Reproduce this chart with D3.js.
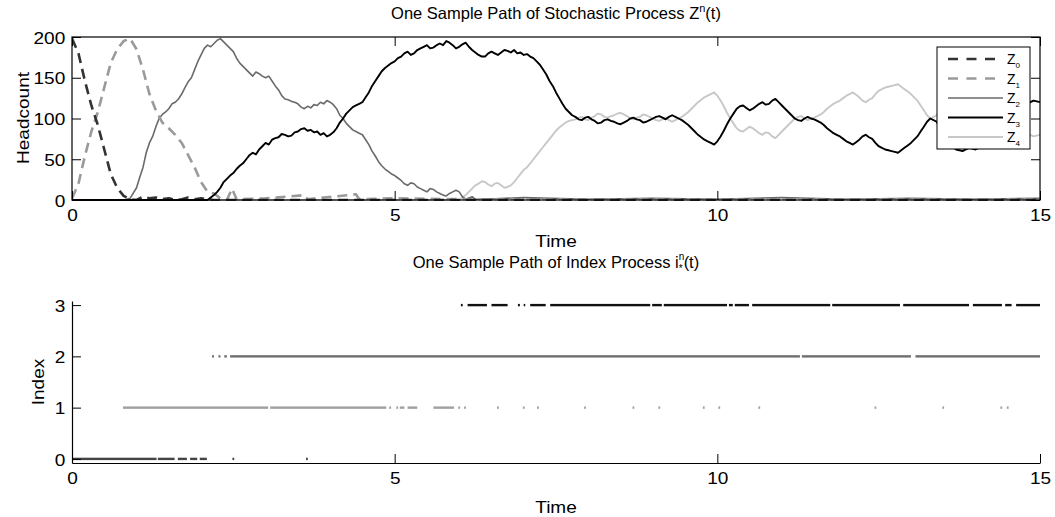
<!DOCTYPE html>
<html><head><meta charset="utf-8">
<script src="https://cdn.jsdelivr.net/npm/d3@7"></script>
<style>
body{margin:0;background:#fff;}
svg text{font-family:"Liberation Sans",Arial,Helvetica,sans-serif;fill:#000;}
</style></head>
<body><svg id="c" width="1055" height="517"></svg>
<script>
// ---------- DATA (time, headcount) ----------
const seriesNames = ["0","1","2","3","4"];
const xTicks = [0,5,10,15];
const yTicksTop = [0,50,100,150,200];
const yTicksBottom = [0,1,2,3];

const z0 = [[0,198],[0.1,180],[0.2,146],[0.3,116],[0.4,92],[0.5,62],[0.6,32],[0.7,15],[0.8,5],[0.9,1],
  [1.0,0],[1.1,4],[1.2,2],[1.3,3],[1.4,1],[1.5,2],[1.6,0],[1.7,1],[1.8,3],[1.9,1],[2.0,2],[2.1,1],[2.2,0],[15,0]];

const z1 = [[0,2],[0.1,20],[0.2,54],[0.3,84],[0.4,108],[0.5,138],[0.6,168],[0.7,185],[0.8,195],[0.9,198],
  [1.0,185],[1.1,160],[1.2,130],[1.3,110],[1.4,95],[1.5,88],[1.6,80],[1.7,70],[1.8,55],[1.9,40],
  [2.0,22],[2.1,10],[2.2,8],[2.3,2],[2.4,0],[2.48,14],[2.55,1],[3.0,2],[3.6,6],[3.65,1],[4.4,7],[4.45,1],[5.0,2],[6.0,1],[15,1]];

const z2 = [[0,0],[0.8,0],[0.9,2],[1.0,15],[1.05,28],[1.1,40],[1.15,58],[1.2,70],[1.25,78],[1.3,90],[1.35,100],[1.4,105],
  [1.45,108],[1.5,112],[1.55,118],[1.6,120],[1.65,124],[1.7,130],[1.75,138],[1.8,145],[1.85,150],[1.9,160],[1.95,170],
  [2.0,178],[2.05,186],[2.1,190],[2.15,188],[2.2,192],[2.25,196],[2.3,198],[2.35,194],[2.4,190],[2.45,186],[2.5,182],
  [2.55,174],[2.6,168],[2.65,164],[2.7,160],[2.75,156],[2.8,152],[2.85,157],[2.9,155],[2.95,152],[3.0,150],[3.05,152],
  [3.1,146],[3.15,140],[3.2,135],[3.25,128],[3.3,124],[3.35,123],[3.4,121],[3.45,120],[3.5,118],[3.55,114],[3.6,112],
  [3.65,115],[3.7,113],[3.75,117],[3.8,116],[3.85,120],[3.9,118],[3.95,122],[4.0,120],[4.05,117],[4.1,112],[4.15,104],
  [4.2,100],[4.25,94],[4.3,90],[4.35,86],[4.4,84],[4.45,82],[4.5,80],[4.55,74],[4.6,68],[4.65,60],[4.7,54],[4.75,47],
  [4.8,42],[4.85,38],[4.9,35],[4.95,32],[5.0,30],[5.05,27],[5.1,24],[5.15,20],[5.2,18],[5.25,21],[5.3,20],[5.35,16],
  [5.4,14],[5.45,12],[5.5,10],[5.55,14],[5.6,13],[5.65,10],[5.7,8],[5.75,6],[5.8,5],[5.85,8],
  [5.9,10],[5.95,12],[6.0,10],[6.05,4],[6.1,1],[6.2,4],[6.25,1],[6.4,1],[7.0,3],[8.0,1],[9.0,2],[10.0,1],[11.0,3],[12.0,1],[13.0,2],[14.0,1],[15,2]];

const z3 = [[0,0],[2.1,0],[2.15,3],[2.2,6],[2.25,10],[2.3,15],[2.35,22],[2.4,26],[2.45,30],[2.5,33],[2.55,38],[2.6,42],
  [2.65,45],[2.7,50],[2.75,55],[2.8,58],[2.85,56],[2.9,62],[2.95,66],[3.0,70],[3.05,68],[3.1,74],[3.15,76],[3.2,77],
  [3.25,81],[3.3,80],[3.35,78],[3.4,79],[3.45,83],[3.5,84],[3.55,87],[3.6,88],[3.65,85],[3.7,86],[3.75,83],[3.8,84],
  [3.85,80],[3.9,82],[3.95,78],[4.0,80],[4.05,83],[4.1,88],[4.15,95],
  [4.2,100],[4.25,106],[4.3,110],[4.35,114],[4.4,116],[4.45,118],[4.5,120],[4.55,126],[4.6,132],[4.65,140],[4.7,146],
  [4.75,152],[4.8,158],[4.85,162],[4.9,165],[4.95,168],[5.0,170],[5.05,174],[5.1,176],
  [5.15,180],[5.2,182],[5.25,178],[5.3,180],[5.35,184],[5.4,186],[5.45,188],[5.5,190],[5.55,186],[5.6,187],[5.65,190],
  [5.7,192],[5.75,190],[5.8,195],[5.85,193],[5.9,190],[5.95,186],[6.0,188],[6.05,191],[6.1,193],
  [6.15,188],[6.2,184],[6.25,181],[6.3,178],[6.35,176],[6.4,176],[6.45,180],[6.5,182],[6.55,180],[6.6,178],[6.65,181],
  [6.7,184],[6.75,183],[6.8,181],[6.85,184],[6.9,180],[6.95,181],[7.0,178],[7.05,179],[7.1,176],
  [7.15,174],[7.2,170],[7.25,166],[7.3,160],[7.35,154],[7.4,146],[7.45,140],[7.5,132],[7.55,125],[7.6,118],[7.65,112],
  [7.7,108],[7.75,104],[7.8,102],[7.85,99],[7.9,98],[7.95,101],[8.0,102],[8.05,99],[8.1,97],
  [8.15,94],[8.2,95],[8.25,98],[8.3,99],[8.35,97],[8.4,96],[8.45,94],[8.5,93],[8.55,95],[8.6,97],[8.65,100],[8.7,101],
  [8.75,99],[8.8,98],[8.85,95],[8.9,96],[8.95,98],[9.0,100],[9.05,102],[9.1,103],[9.15,101],[9.2,99],
  [9.25,102],[9.3,104],[9.35,102],[9.4,100],[9.45,98],[9.5,95],[9.55,92],[9.6,88],[9.65,84],[9.7,80],[9.75,77],[9.8,74],
  [9.85,72],[9.9,70],[9.95,68],[10.0,72],[10.05,78],[10.1,85],[10.15,93],[10.2,100],
  [10.25,106],[10.3,112],[10.35,115],[10.4,116],[10.45,113],[10.5,110],[10.55,112],[10.6,115],[10.65,118],[10.7,120],
  [10.75,117],[10.8,118],[10.85,122],[10.9,124],[10.95,120],[11.0,116],[11.05,112],[11.1,108],
  [11.15,104],[11.2,100],[11.25,98],[11.3,97],[11.35,100],[11.4,102],[11.45,100],[11.5,99],[11.55,97],[11.6,95],
  [11.65,92],[11.7,88],[11.75,85],[11.8,82],[11.85,80],[11.9,78],[11.95,75],[12.0,72],[12.05,70],[12.1,68],
  [12.15,71],[12.2,74],[12.25,78],[12.3,80],[12.35,77],[12.4,75],[12.45,70],[12.5,66],[12.55,64],[12.6,62],[12.65,61],
  [12.7,60],[12.75,59],[12.8,58],[12.85,61],[12.9,64],[12.95,67],[13.0,70],[13.05,74],[13.1,78],
  [13.15,84],[13.2,90],[13.25,96],[13.3,100],[13.35,98],[13.4,96],[13.45,88],[13.5,80],[13.55,73],[13.6,68],[13.65,65],
  [13.7,62],[13.75,61],[13.8,60],[13.85,62],[13.9,64],[13.95,63],[14.0,62],[14.05,64],[14.1,66],
  [14.15,68],[14.2,70],[14.25,72],[14.3,74],[14.35,78],[14.4,82],[14.45,86],[14.5,90],[14.55,95],[14.6,100],[14.65,105],
  [14.7,110],[14.75,114],[14.8,118],[14.85,120],[14.9,122],[14.95,121],[15.0,120]];

const z4 = [[0,0],[6.0,0],[6.05,3],[6.1,6],[6.15,10],[6.2,14],[6.25,18],[6.3,20],[6.35,23],[6.4,22],[6.45,19],[6.5,17],
  [6.55,20],[6.6,21],[6.65,18],[6.7,15],[6.75,16],[6.8,18],[6.85,22],[6.9,27],[6.95,32],
  [7.0,37],[7.05,40],[7.1,45],[7.15,50],[7.2,55],[7.25,60],[7.3,65],[7.35,70],[7.4,75],[7.45,80],[7.5,85],[7.55,89],
  [7.6,92],[7.65,95],[7.7,97],[7.75,98],[7.8,99],[7.85,101],[7.9,102],[7.95,99],[8.0,98],[8.05,101],
  [8.1,103],[8.15,106],[8.2,105],[8.25,102],[8.3,101],[8.35,103],[8.4,104],[8.45,106],[8.5,107],[8.55,105],[8.6,103],
  [8.65,100],[8.7,99],[8.75,101],[8.8,102],[8.85,105],[8.9,104],[8.95,102],[9.0,100],[9.05,98],
  [9.1,97],[9.15,99],[9.2,101],[9.25,98],[9.3,96],[9.35,98],[9.4,100],[9.45,102],[9.5,105],[9.55,108],[9.6,112],
  [9.65,116],[9.7,120],[9.75,123],[9.8,126],[9.85,128],[9.9,130],[9.95,132],[10.0,128],[10.05,122],
  [10.1,115],[10.15,107],[10.2,100],[10.25,94],[10.3,88],[10.35,85],[10.4,84],[10.45,87],[10.5,90],[10.55,88],
  [10.6,85],[10.65,82],[10.7,80],[10.75,83],[10.8,82],[10.85,78],[10.9,76],[10.95,80],[11.0,84],[11.05,88],
  [11.1,92],[11.15,96],[11.2,100],[11.25,102],[11.3,103],[11.35,100],[11.4,98],[11.45,100],[11.5,101],[11.55,103],
  [11.6,105],[11.65,108],[11.7,112],[11.75,115],[11.8,118],[11.85,120],[11.9,122],[11.95,125],
  [12.0,128],[12.05,130],[12.1,132],[12.15,129],[12.2,126],[12.25,122],[12.3,120],[12.35,123],[12.4,125],[12.45,130],
  [12.5,134],[12.55,136],[12.6,138],[12.65,139],[12.7,140],[12.75,141],[12.8,142],[12.85,139],[12.9,136],[12.95,133],
  [13.0,130],[13.05,126],[13.1,122],[13.15,116],[13.2,110],[13.25,104],[13.3,100],[13.35,102],[13.4,104],[13.45,112],
  [13.5,120],[13.55,127],[13.6,132],[13.65,135],[13.7,138],[13.75,139],[13.8,140],[13.85,138],[13.9,136],[13.95,137],
  [14.0,138],[14.05,136],[14.1,134],[14.15,132],[14.2,130],[14.25,128],[14.3,126],[14.35,122],[14.4,118],[14.45,114],
  [14.5,110],[14.55,105],[14.6,100],[14.65,95],[14.7,90],[14.75,86],[14.8,82],[14.85,80],[14.9,78],[14.95,79],[15.0,80]];

// Index process: intervals [start,end] where the index sits at a level, plus isolated instants
const idx0Segs = [[0,1.31],[1.33,1.59],[1.64,1.78],[1.83,1.94],[1.98,2.09]];
const idx0Dots = [2.5,3.64];
const idx1Segs = [[0.79,3.04],[3.07,4.87],[5.08,5.15],[5.2,5.35],[5.6,5.92]];
const idx1Dots = [4.93,5.04,6.0,6.09,6.6,7.0,7.22,7.95,8.7,9.1,9.79,10.03,10.65,12.45,13.5,14.4,14.5];
const idx2Segs = [[2.17,2.2],[2.27,2.3],[2.36,2.4],[2.45,11.28],[11.31,13.0],[13.07,15]];
const idx2Dots = [];
const idx3Segs = [[6.13,6.43],[6.5,6.75],[6.91,6.94],[7.0,7.02],[7.1,7.34],[7.41,8.96],[8.99,9.14],[9.17,10.15],
  [10.18,10.24],[10.27,10.49],[10.54,11.75],[11.78,12.83],[12.88,13.9],[13.96,14.41],[14.46,14.56],[14.63,15]];
const idx3Dots = [6.04];

// ---------- DRAWING ----------
const svg = d3.select("#c");
const L = 72, R = 1040;
const T1 = 37, B1 = 200, T2 = 301, B2 = 463;
const SX = 1.12; // horizontal stretch of labels in reference

const x = d3.scaleLinear().domain([0,15]).range([L,R]);
const y1 = d3.scaleLinear().domain([0,200]).range([B1,T1]);
const y2 = d3.scaleLinear().domain([-0.08,3.08]).range([B2,T2]);

const styles = [
  {color:"#333", w:2.6, dash:"10,6"},
  {color:"#9a9a9a", w:2.6, dash:"10,6"},
  {color:"#6a6a6a", w:1.6, dash:null},
  {color:"#000", w:1.9, dash:null},
  {color:"#c8c8c8", w:1.9, dash:null}
];
const series = [z0,z1,z2,z3,z4];

svg.append("clipPath").attr("id","clip1").append("rect")
  .attr("x",L).attr("y",T1-2).attr("width",R-L).attr("height",B1-T1+3);

const line = d3.line().x(d=>x(d[0])).y(d=>y1(d[1]));
const gLines = svg.append("g").attr("clip-path","url(#clip1)");
[4,2,1,0,3].forEach(i=>{
  gLines.append("path").datum(series[i]).attr("d",line)
    .attr("fill","none").attr("stroke",styles[i].color).attr("stroke-width",styles[i].w)
    .attr("stroke-linejoin","round")
    .attr("stroke-dasharray",styles[i].dash);
});

function styleAxis(g){
  g.select(".domain").remove();
  g.selectAll(".tick line").attr("stroke","#000").attr("stroke-width",1);
  g.selectAll(".tick text").style("font-size","17px").attr("fill","#000").attr("transform",`scale(${SX},1)`);
}

// Top plot axes (box with inward ticks)
svg.append("g").attr("transform",`translate(${L},0)`)
  .call(d3.axisLeft(y1).tickValues(yTicksTop).tickSizeInner(-9).tickSizeOuter(0).tickPadding(6))
  .call(styleAxis).selectAll(".tick text").attr("dy","0.36em");
svg.append("g").attr("transform",`translate(${R},0)`)
  .call(d3.axisRight(y1).tickValues(yTicksTop).tickSizeInner(-9).tickSizeOuter(0).tickFormat(""))
  .call(styleAxis);
svg.append("g").attr("transform",`translate(0,${B1})`)
  .call(d3.axisBottom(x).tickValues(xTicks).tickSizeInner(-9).tickSizeOuter(0).tickPadding(9))
  .call(styleAxis);
svg.append("g").attr("transform",`translate(0,${T1})`)
  .call(d3.axisTop(x).tickValues(xTicks).tickSizeInner(-9).tickSizeOuter(0).tickFormat(""))
  .call(styleAxis);
svg.append("rect").attr("x",L).attr("y",T1).attr("width",R-L).attr("height",B1-T1)
  .attr("fill","none").attr("stroke","#000").attr("stroke-width",1.2);

// Legend
const lg = svg.append("g");
lg.append("rect").attr("x",937).attr("y",47).attr("width",93).attr("height",102)
  .attr("fill","#fff").attr("stroke","#000").attr("stroke-width",1);
seriesNames.forEach((n,i)=>{
  const yy = 59 + i*19.5;
  lg.append("line").attr("x1",948).attr("x2",1003).attr("y1",yy).attr("y2",yy)
    .attr("stroke",styles[i].color).attr("stroke-width",styles[i].w)
    .attr("stroke-dasharray",styles[i].dash ? "10,8.5" : null);
  const t = lg.append("text").attr("x",1007).attr("y",yy+5).style("font-size","14px").text("Z");
  t.append("tspan").attr("dy",4).style("font-size","8px").text(n);
});

// Titles and labels
const t1 = svg.append("text").attr("x",556).attr("y",19).attr("text-anchor","middle").style("font-size","16.5px")
  .text("One Sample Path of Stochastic Process Z");
t1.append("tspan").attr("dy",-7).style("font-size","11px").text("n");
t1.append("tspan").attr("dy",7).text("(t)");

svg.append("text").attr("transform",`translate(556,247) scale(${SX},1)`).attr("text-anchor","middle").style("font-size","17px").text("Time");
svg.append("text").attr("transform",`translate(29,118) rotate(-90) scale(${SX},1)`).attr("text-anchor","middle")
  .style("font-size","17px").text("Headcount");

// Bottom plot title: i with superscript n and subscript *
const t2 = svg.append("text").attr("x",556).attr("y",268).attr("text-anchor","middle").style("font-size","16.5px")
  .text("One Sample Path of Index Process i");
t2.append("tspan").attr("dy",-8).style("font-size","10px").text("n");
t2.append("tspan").attr("dx",-5.6).attr("dy",12).style("font-size","10px").text("*");
t2.append("tspan").attr("dx",1).attr("dy",-4).text("(t)");

const levelData = [
  {lvl:0, segs:idx0Segs, dots:idx0Dots, color:"#444"},
  {lvl:1, segs:idx1Segs, dots:idx1Dots, color:"#a0a0a0"},
  {lvl:2, segs:idx2Segs, dots:idx2Dots, color:"#707070"},
  {lvl:3, segs:idx3Segs, dots:idx3Dots, color:"#111"}
];
const gIdx = svg.append("g");
levelData.forEach(ld=>{
  gIdx.selectAll(null).data(ld.segs).enter().append("rect")
    .attr("x",d=>x(d[0])).attr("width",d=>Math.max(1.5,x(d[1])-x(d[0])))
    .attr("y",y2(ld.lvl)-1.2).attr("height",2.4).attr("fill",ld.color);
  gIdx.selectAll(null).data(ld.dots).enter().append("rect")
    .attr("x",d=>x(d)-0.9).attr("width",1.8)
    .attr("y",y2(ld.lvl)-1.2).attr("height",2.4).attr("fill",ld.color);
});

const axL2 = svg.append("g").attr("transform",`translate(${L},0)`)
  .call(d3.axisLeft(y2).tickValues(yTicksBottom).tickFormat(d3.format("d")).tickSizeInner(-9).tickSizeOuter(0).tickPadding(6));
axL2.select(".domain").attr("stroke","#000").attr("stroke-width",1.2);
axL2.selectAll(".tick line").attr("stroke","#000");
axL2.selectAll(".tick text").style("font-size","17px").attr("dy","0.36em").attr("transform",`scale(${SX},1)`);
const axB2 = svg.append("g").attr("transform",`translate(0,${B2})`)
  .call(d3.axisBottom(x).tickValues(xTicks).tickSizeInner(-9).tickSizeOuter(0).tickPadding(9));
axB2.select(".domain").attr("stroke","#000").attr("stroke-width",1.2);
axB2.selectAll(".tick line").attr("stroke","#000");
axB2.selectAll(".tick text").style("font-size","17px").attr("transform",`scale(${SX},1)`);

svg.append("text").attr("transform",`translate(556,513) scale(${SX},1)`).attr("text-anchor","middle").style("font-size","17px").text("Time");
svg.append("text").attr("transform",`translate(44,382) rotate(-90) scale(${SX},1)`).attr("text-anchor","middle")
  .style("font-size","17px").text("Index");
</script></body></html>
